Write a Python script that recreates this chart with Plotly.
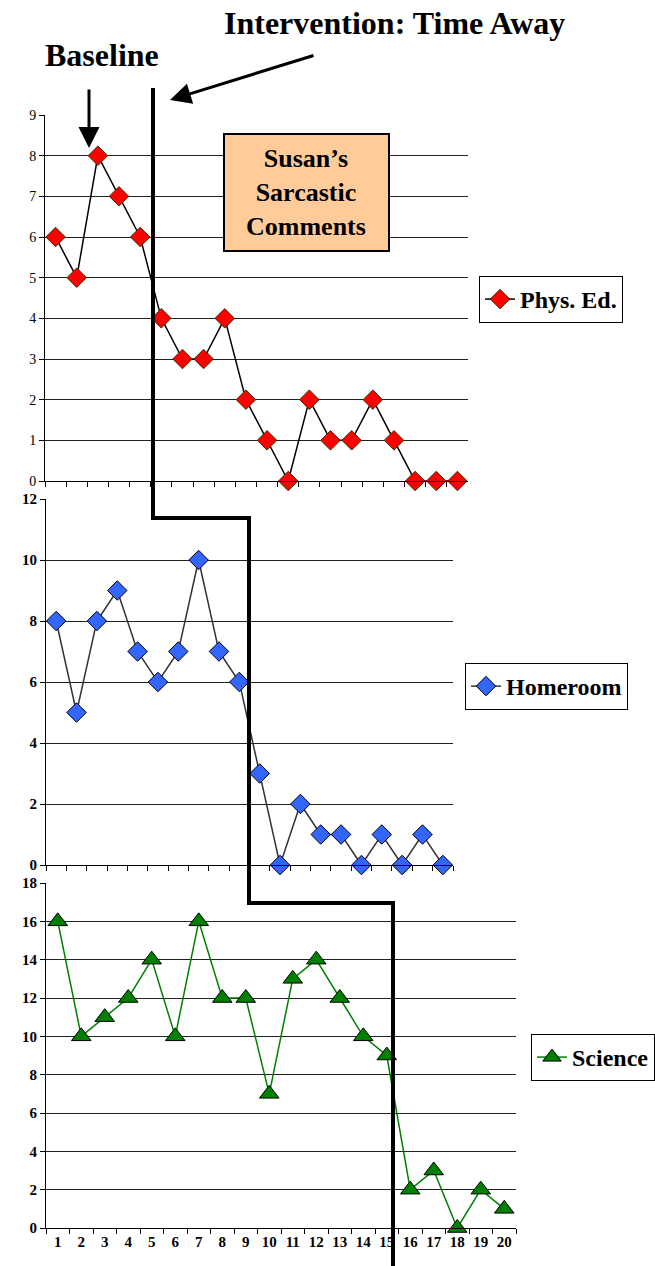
import plotly.graph_objects as go

# ---------------- data ----------------
sessions = [str(i) for i in range(1, 21)]
phys_ed = [6, 5, 8, 7, 6, 4, 3, 3, 4, 2, 1, 0, 2, 1, 1, 2, 1, 0, 0, 0]
homeroom = [8, 5, 8, 9, 7, 6, 7, 10, 7, 6, 3, 0, 2, 1, 1, 0, 1, 0, 1, 0]
science = [16, 10, 11, 12, 14, 10, 16, 12, 12, 7, 13, 14, 12, 10, 9, 2, 3, 0, 2, 1]
phys_ticks = list(range(0, 10))
home_ticks = list(range(0, 13, 2))
sci_ticks = list(range(0, 19, 2))

W, H = 655, 1266
SERIF = "Liberation Serif, Times New Roman, serif"
BOLD = dict(family="Liberation Serif", weight="bold")


def px(x):
    return x / W


def py(y):
    return 1 - y / H


fig = go.Figure()

fig.add_trace(go.Scatter(
    x=sessions, y=phys_ed, name="Phys. Ed.", mode="lines+markers",
    line=dict(color="black", width=1.5),
    marker=dict(symbol="diamond", size=15, color="#FF0000",
                line=dict(color="#333300", width=1)),
    xaxis="x", yaxis="y", legend="legend", cliponaxis=False))
fig.add_trace(go.Scatter(
    x=sessions, y=homeroom, name="Homeroom", mode="lines+markers",
    line=dict(color="#333333", width=1.5),
    marker=dict(symbol="diamond", size=15, color="#3366FF",
                line=dict(color="black", width=1)),
    xaxis="x2", yaxis="y2", legend="legend2", cliponaxis=False))
fig.add_trace(go.Scatter(
    x=sessions, y=science, name="Science", mode="lines+markers",
    line=dict(color="#008000", width=1.5),
    marker=dict(symbol="triangle-up", size=17, color="#008000",
                line=dict(color="black", width=1)),
    xaxis="x3", yaxis="y3", legend="legend3", cliponaxis=False))

xcommon = dict(type="category", categoryorder="array", categoryarray=sessions,
               range=[-0.5, len(sessions) - 0.5],
               tickson="boundaries", ticks="outside", ticklen=5, tickcolor="black",
               showline=True, linecolor="black", linewidth=1, showgrid=False,
               zeroline=False, tickangle=0, automargin=False)
ycommon = dict(ticks="outside", ticklen=5, tickcolor="black", showline=True,
               linecolor="black", linewidth=1, showgrid=True, gridcolor="#222222",
               gridwidth=1, zeroline=False, automargin=False)
legcommon = dict(xanchor="left", yanchor="top", bordercolor="black", borderwidth=1,
                 bgcolor="white", font=dict(size=24, **BOLD))

fig.update_layout(
    width=W, height=H, margin=dict(l=0, r=0, t=0, b=0, autoexpand=False),
    paper_bgcolor="white", plot_bgcolor="white",
    font=dict(family=SERIF, color="black"),
    xaxis=dict(xcommon, domain=[px(45), px(468)], anchor="y", showticklabels=False),
    yaxis=dict(ycommon, domain=[py(481), py(115)], anchor="x", range=[0, 9],
               tickvals=phys_ticks, tickfont=dict(size=14, family=SERIF)),
    xaxis2=dict(xcommon, domain=[px(46), px(453)], anchor="y2", showticklabels=False),
    yaxis2=dict(ycommon, domain=[py(865), py(499)], anchor="x2", range=[0, 12],
                tickvals=home_ticks, tickfont=dict(size=15, **BOLD)),
    xaxis3=dict(xcommon, domain=[px(46), px(516)], anchor="y3",
                tickfont=dict(size=15, **BOLD)),
    yaxis3=dict(ycommon, domain=[py(1228), py(883)], anchor="x3", range=[0, 18],
                tickvals=sci_ticks, tickfont=dict(size=15, **BOLD)),
    legend=dict(legcommon, x=px(479), y=py(276)),
    legend2=dict(legcommon, x=px(465), y=py(663)),
    legend3=dict(legcommon, x=1.0, xanchor="right", y=py(1034)),
    showlegend=True,
)

# Intervention step line
step = [(153, 88), (153, 518), (249, 518), (249, 903), (393, 903), (393, 1266)]
path = "M " + " L ".join(f"{px(a):.5f},{py(b):.5f}" for a, b in step)
fig.add_shape(type="path", path=path, xref="paper", yref="paper",
              line=dict(color="black", width=4), layer="above")

# Label box
fig.add_shape(type="rect", xref="paper", yref="paper",
              x0=px(224), x1=px(389), y0=py(251), y1=py(134),
              fillcolor="#FFCC99", line=dict(color="black", width=2), layer="above")
fig.add_annotation(x=px(306), y=py(192), xref="paper", yref="paper",
                   xanchor="center", yanchor="middle",
                   text="Susan’s<br>Sarcastic<br>Comments", showarrow=False,
                   font=dict(size=26, **BOLD), align="center")

# Titles
fig.add_annotation(x=px(102), y=py(55), xref="paper", yref="paper",
                   xanchor="center", yanchor="middle",
                   text="Baseline", showarrow=False, font=dict(size=32, **BOLD))
fig.add_annotation(x=px(394), y=py(23), xref="paper", yref="paper",
                   xanchor="center", yanchor="middle",
                   text="Intervention: Time Away", showarrow=False,
                   font=dict(size=32, **BOLD))

# Arrows
fig.add_annotation(x=px(89), y=py(148), xref="paper", yref="paper",
                   ax=0, ay=-60, text="", showarrow=True,
                   arrowhead=2, arrowsize=1.4, arrowwidth=3, arrowcolor="black")
fig.add_annotation(x=px(170), y=py(100), xref="paper", yref="paper",
                   ax=145, ay=-45, text="", showarrow=True,
                   arrowhead=2, arrowsize=1.4, arrowwidth=3, arrowcolor="black")

# remove the default 8px page margin so the figure fills the window exactly
fig.write_html("out.html", config={"displayModeBar": False},
               post_script="document.body.style.margin='0px';")
